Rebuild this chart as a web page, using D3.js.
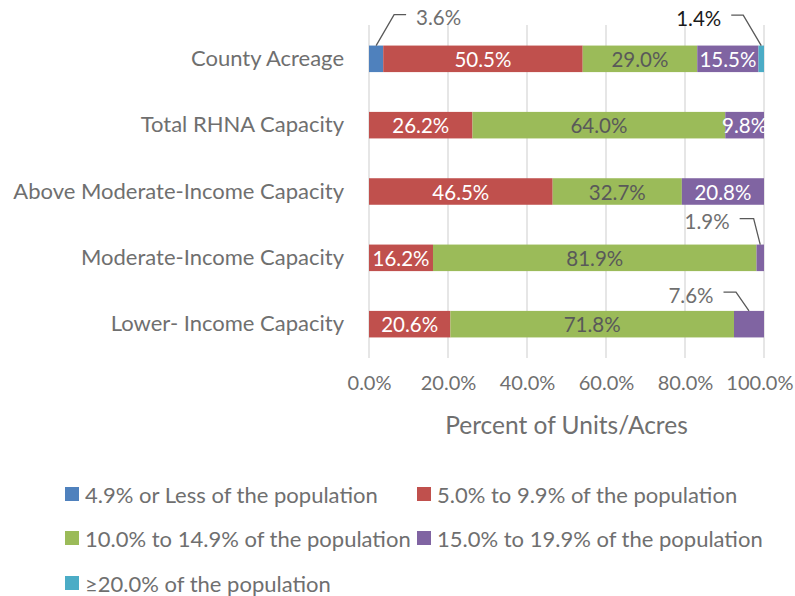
<!DOCTYPE html>
<html>
<head>
<meta charset="utf-8">
<script src="https://cdn.jsdelivr.net/npm/d3@7"></script>
<style>
  html, body { margin: 0; padding: 0; background: #fff; }
  svg { display: block; font-family: Lato, "Open Sans", sans-serif; }
</style>
</head>
<body>
<svg id="chart" width="795" height="596"></svg>
<script>
// Share of units / acres by census-tract population band
const categories = [
  "County Acreage",
  "Total RHNA Capacity",
  "Above Moderate-Income Capacity",
  "Moderate-Income Capacity",
  "Lower- Income Capacity"
];
const seriesNames = [
  "4.9% or Less of the population",
  "5.0% to 9.9% of the population",
  "10.0% to 14.9% of the population",
  "15.0% to 19.9% of the population",
  "\u226520.0%  of the population"
];
const band1 = [3.6, 0, 0, 0, 0];
const band2 = [50.5, 26.2, 46.5, 16.2, 20.6];
const band3 = [29.0, 64.0, 32.7, 81.9, 71.8];
const band4 = [15.5, 9.8, 20.8, 1.9, 7.6];
const band5 = [1.4, 0, 0, 0, 0];
const tickValues = [0, 20, 40, 60, 80, 100];
const xTitle = "Percent of Units/Acres";

const colors = ["#4F81BD", "#C0504D", "#9BBB59", "#8064A2", "#4BACC6"];
const labelColors = ["#ffffff", "#ffffff", "#595959", "#ffffff", "#ffffff"];
const textGrey = "#6f6f6f";

const svg = d3.select("#chart");
const margin = { left: 369, right: 31, top: 25, bottom: 238 };
const W = 795, H = 596;

const x = d3.scaleLinear().domain([0, 100]).range([margin.left, W - margin.right]);
const y = d3.scaleBand().domain(categories).range([margin.top, H - margin.bottom]).paddingInner(0.6).paddingOuter(0.31);

const table = categories.map((c, i) => ({
  category: c,
  values: [band1[i], band2[i], band3[i], band4[i], band5[i]]
}));

// vertical gridlines
svg.append("g")
  .selectAll("line")
  .data(tickValues)
  .join("line")
  .attr("x1", d => x(d)).attr("x2", d => x(d))
  .attr("y1", margin.top).attr("y2", H - margin.bottom)
  .attr("stroke", "#d9d9d9").attr("stroke-width", 1.3);

// x axis tick labels
const xAxis = d3.axisBottom(x).tickValues(tickValues).tickFormat(d => d.toFixed(1) + "%").tickSize(0).tickPadding(0);
const gx = svg.append("g").attr("transform", `translate(0, ${H - margin.bottom + 26})`).call(xAxis);
gx.select(".domain").remove();
gx.selectAll("text").attr("fill", textGrey).attr("font-size", 20).attr("font-family", "Lato, sans-serif").attr("dy", "0.32em").attr("y", 0);
// keep the rightmost tick label inside the drawing
gx.selectAll(".tick").each(function (d) {
  const t = d3.select(this).select("text");
  const half = t.node().getComputedTextLength() / 2;
  const over = x(d) + half - (W - 2);
  if (over > 0) t.attr("x", -over);
});

svg.append("text")
  .attr("x", (x(0) + x(100)) / 2).attr("y", 424)
  .attr("text-anchor", "middle").attr("dominant-baseline", "central")
  .attr("fill", textGrey).attr("font-size", 24.5)
  .text(xTitle);

// category labels
const yAxis = d3.axisLeft(y).tickSize(0).tickPadding(25);
const gy = svg.append("g").attr("transform", `translate(${margin.left}, 0)`).call(yAxis);
gy.select(".domain").remove();
gy.selectAll("text").attr("fill", textGrey).attr("font-size", 22).attr("font-family", "Lato, sans-serif");

// stacked segments
const segs = [];
table.forEach(row => {
  let acc = 0;
  row.values.forEach((v, k) => {
    segs.push({ category: row.category, k, v, x0: acc, x1: acc + v });
    acc += v;
  });
});

svg.append("g")
  .selectAll("rect")
  .data(segs.filter(s => s.v > 0))
  .join("rect")
  .attr("x", d => x(d.x0))
  .attr("y", d => y(d.category))
  .attr("width", d => x(d.x1) - x(d.x0))
  .attr("height", y.bandwidth())
  .attr("fill", d => colors[d.k]);

// labels drawn inside segments wide enough to hold them
const fmt = v => v.toFixed(1) + "%";
const inside = segs.filter(s => s.v >= 9);
svg.append("g")
  .selectAll("text")
  .data(inside)
  .join("text")
  .attr("x", d => (x(d.x0) + x(d.x1)) / 2)
  .attr("y", d => y(d.category) + y.bandwidth() / 2)
  .attr("text-anchor", "middle").attr("dominant-baseline", "central")
  .attr("font-size", 20.5)
  .attr("fill", d => labelColors[d.k])
  .text(d => fmt(d.v));

// narrow segments get a callout above the bar: leader rises from the
// segment's top edge to an elbow, then runs horizontally toward the label
// (dx: elbow offset, rise: height above bar, run: horizontal length)
const calloutLayout = {
  "0-0": { dx: 18, rise: 31, run: 12 },
  "0-4": { dx: -18, rise: 30.5, run: 12 },
  "3-3": { dx: -6.6, rise: 26, run: 14 },
  "4-3": { dx: -13, rise: 18.7, run: 12.5 }
};
const small = segs.filter(s => s.v > 0 && s.v < 9);
const gc = svg.append("g");
small.forEach(s => {
  const key = categories.indexOf(s.category) + "-" + s.k;
  const L = calloutLayout[key] || { dx: -12, rise: 26, run: 12 };
  const cx = (x(s.x0) + x(s.x1)) / 2;
  const top = y(s.category);
  const ly = top - L.rise;
  const dir = Math.sign(L.dx);
  const ex = cx + L.dx, hx = ex + dir * L.run;
  const textColor = s.k === 4 ? "#1a1a1a" : textGrey;
  gc.append("polyline")
    .attr("points", [[cx, top], [ex, ly], [hx, ly]].map(p => p.join(",")).join(" "))
    .attr("fill", "none").attr("stroke", "#595959").attr("stroke-width", 1.3);
  gc.append("text")
    .attr("x", hx + dir * 10).attr("y", ly + 2.5)
    .attr("text-anchor", dir > 0 ? "start" : "end").attr("dominant-baseline", "central")
    .attr("font-size", 20.5).attr("fill", textColor)
    .text(fmt(s.v));
});

// legend
const legendPos = [[65, 494], [417, 494], [65, 538], [417, 538], [65, 583]];
const lg = svg.append("g");
seriesNames.forEach((name, k) => {
  const [lx, ly] = legendPos[k];
  lg.append("rect").attr("x", lx).attr("y", ly - 7).attr("width", 14).attr("height", 14).attr("fill", colors[k]);
  lg.append("text").attr("x", lx + 20).attr("y", ly)
    .attr("dominant-baseline", "central").attr("font-size", 22).attr("fill", textGrey)
    .text(name);
});
</script>
</body>
</html>
